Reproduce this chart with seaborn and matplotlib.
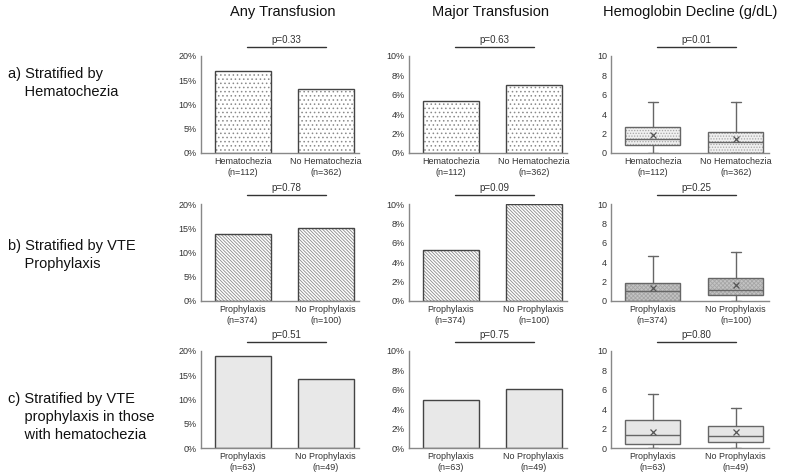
import numpy as np
import pandas as pd
import seaborn as sns
import matplotlib.pyplot as plt
from matplotlib.patches import Rectangle
from matplotlib.ticker import PercentFormatter

sns.set_style("white")
plt.rcParams['font.family'] = ['Liberation Sans', 'DejaVu Sans']
plt.rcParams['hatch.linewidth'] = 0.6

# data
col_titles = ["Any Transfusion", "Major Transfusion", "Hemoglobin Decline (g/dL)"]
row_labels = ["a) Stratified by\n    Hematochezia",
              "b) Stratified by VTE\n    Prophylaxis",
              "c) Stratified by VTE\n    prophylaxis in those\n    with hematochezia"]
groups_a = ["Hematochezia\n(n=112)", "No Hematochezia\n(n=362)"]
groups_b = ["Prophylaxis\n(n=374)", "No Prophylaxis\n(n=100)"]
groups_c = ["Prophylaxis\n(n=63)", "No Prophylaxis\n(n=49)"]

any_a = [17.0, 13.2]
any_b = [13.8, 15.0]
any_c = [19.0, 14.3]
major_a = [5.4, 7.0]
major_b = [5.3, 10.0]
major_c = [5.0, 6.1]

# hemoglobin decline box stats: low whisker, q1, median, q3, high whisker, mean
hb_a = [[0.0, 0.8, 1.45, 2.65, 5.3, 1.9], [0.0, 0.0, 1.15, 2.15, 5.3, 1.4]]
hb_b = [[0.0, 0.0, 1.0, 1.85, 4.65, 1.35], [0.0, 0.6, 1.15, 2.4, 5.1, 1.6]]
hb_c = [[0.0, 0.4, 1.35, 2.9, 5.6, 1.65], [0.0, 0.6, 1.25, 2.3, 4.1, 1.65]]

p_any = ["p=0.33", "p=0.78", "p=0.51"]
p_major = ["p=0.63", "p=0.09", "p=0.75"]
p_hb = ["p=0.01", "p=0.25", "p=0.80"]

groups = [groups_a, groups_b, groups_c]
anys = [any_a, any_b, any_c]
majors = [major_a, major_b, major_c]
hbs = [hb_a, hb_b, hb_c]

bar_fill = ["white", "white", "#e8e8e8"]
bar_hatch = ["....", "\\" * 10, None]
box_fill = ["#f0f0f0", "#c4c4c4", "#e6e6e6"]
box_hatch = ["......", "xxxxxxxx", None]

W, H = 789, 474
fig = plt.figure(figsize=(W / 100, H / 100), dpi=100)

col_left = [201, 409, 611]
row_top = [56, 204, 351]
ax_w, ax_h = 158, 97
row_label_y = [75, 247, 400]


def add_ax(c, r):
    return fig.add_axes([col_left[c] / W, 1 - (row_top[r] + ax_h) / H, ax_w / W, ax_h / H])


def style(ax, labels):
    sns.despine(ax=ax)
    for s in ["left", "bottom"]:
        ax.spines[s].set_color("#888888")
        ax.spines[s].set_linewidth(1.0)
    ax.set_xlim(-0.5, 1.4)
    ax.set_xticks([0, 1])
    ax.set_xticklabels(labels, fontsize=6.5, color="#333333")
    ax.tick_params(axis="both", length=0, pad=3, labelsize=6.5, colors="#333333")
    ax.set_xlabel("")
    ax.set_ylabel("")


def pval(ax, txt):
    ax.plot([0.05, 1.0], [1.09, 1.09], transform=ax.get_xaxis_transform(),
            color="#333333", lw=1.0, clip_on=False)
    ax.text(0.525, 1.11, txt, transform=ax.get_xaxis_transform(), ha="center",
            va="bottom", fontsize=7, color="#333333")


def bars(ax, labels, vals, r, ymax, step):
    df = pd.DataFrame({"group": labels, "value": vals})
    sns.barplot(data=df, x="group", y="value", ax=ax, color=bar_fill[r],
                edgecolor="#444444", linewidth=1.0, width=0.675, saturation=1)
    if bar_hatch[r]:
        for p in list(ax.patches):
            ax.add_patch(Rectangle(p.get_xy(), p.get_width(), p.get_height(),
                                   fill=False, hatch=bar_hatch[r], edgecolor="#8a8a8a",
                                   linewidth=0, zorder=p.get_zorder() + 0.1))
            p.set_zorder(p.get_zorder() + 0.2)
            p.set_facecolor("none")
    ax.set_ylim(0, ymax)
    ax.set_yticks(np.arange(0, ymax + 0.01, step))
    ax.yaxis.set_major_formatter(PercentFormatter(decimals=0))
    style(ax, labels)


def boxes(ax, labels, stats, r):
    bxp_stats = []
    for lab, s in zip(labels, stats):
        bxp_stats.append(dict(label=lab, whislo=s[0], q1=s[1], med=s[2], q3=s[3],
                              whishi=s[4], mean=s[5], fliers=[]))
    bp = ax.bxp(bxp_stats, positions=[0, 1], widths=0.66, patch_artist=True,
                showmeans=True, capwidths=0.12,
                boxprops=dict(facecolor=box_fill[r], edgecolor="#666666", linewidth=1.0),
                medianprops=dict(color="#666666", linewidth=1.0),
                whiskerprops=dict(color="#666666", linewidth=1.0),
                capprops=dict(color="#666666", linewidth=1.0),
                meanprops=dict(marker="x", markeredgecolor="#555555", markersize=4.5,
                               markeredgewidth=0.9))
    if box_hatch[r]:
        for b in bp["boxes"]:
            b.set_hatch(box_hatch[r])
            b._hatch_color = (0.65, 0.65, 0.65, 1.0)
    ax.set_ylim(0, 10)
    ax.set_yticks(np.arange(0, 11, 2))
    style(ax, labels)


for r in range(3):
    ax1 = add_ax(0, r)
    bars(ax1, groups[r], anys[r], r, 20, 5)
    pval(ax1, p_any[r])
    ax2 = add_ax(1, r)
    bars(ax2, groups[r], majors[r], r, 10, 2)
    pval(ax2, p_major[r])
    ax3 = add_ax(2, r)
    boxes(ax3, groups[r], hbs[r], r)
    pval(ax3, p_hb[r])
    fig.text(8 / W, 1 - (row_label_y[r] - 8) / H, row_labels[r], ha="left", va="top",
             fontsize=10.5, color="#111111", linespacing=1.35)

title_x = [283, 490, 690]
for t, x in zip(col_titles, title_x):
    fig.text(x / W, 1 - 12 / H, t, ha="center", va="center", fontsize=10.5, color="#111111")

fig.savefig("out.png", dpi=100)
